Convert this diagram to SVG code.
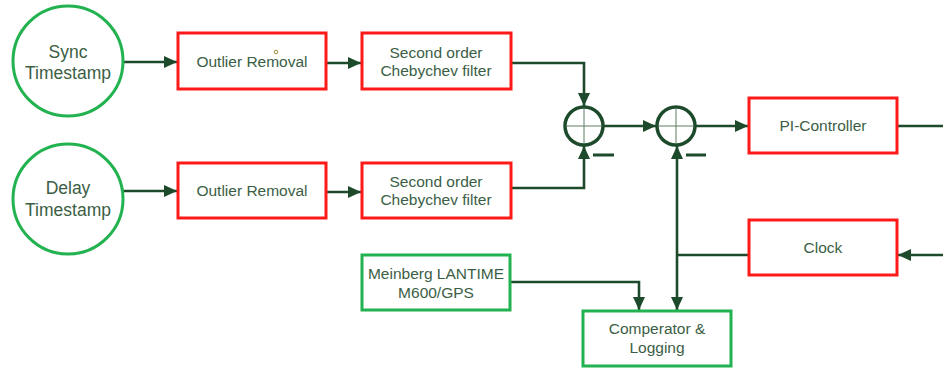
<svg xmlns="http://www.w3.org/2000/svg" width="943" height="369" viewBox="0 0 943 369">
<defs>
<style>
.txt{font-family:"Liberation Sans",Arial,sans-serif;fill:#3b5e45;text-anchor:middle;dominant-baseline:central}
.big{font-size:17.5px}
.sm{font-size:15.5px}
.red{fill:#fff;stroke:#ff1a1a;stroke-width:3}
.grn{fill:#fff;stroke:#22b24f;stroke-width:3}
.con{fill:none;stroke:#1c4a2b;stroke-width:2.6}
.sum{fill:#fff;stroke:#1c4a2b;stroke-width:3.5}
.cross{stroke:#5d7d63;stroke-width:1}
</style>
<marker id="ah" markerUnits="userSpaceOnUse" markerWidth="14" markerHeight="12" refX="13" refY="6" orient="auto">
<path d="M0,0 L13,6 L0,12 z" fill="#1c4a2b"/>
</marker>
</defs>
<rect width="943" height="369" fill="#fff"/>

<g id="connectors">
<path class="con" d="M123,62 H177" marker-end="url(#ah)"/>
<path class="con" d="M123,191 H177" marker-end="url(#ah)"/>
<path class="con" d="M326,63 H361" marker-end="url(#ah)"/>
<path class="con" d="M326,192 H361" marker-end="url(#ah)"/>
<path class="con" d="M511,63 H584 V106" marker-end="url(#ah)"/>
<path class="con" d="M511,188 H584 V146" marker-end="url(#ah)"/>
<path class="con" d="M603,126 H656" marker-end="url(#ah)"/>
<path class="con" d="M695,126 H748" marker-end="url(#ah)"/>
<path class="con" d="M897,126 H943"/>
<path class="con" d="M943,255 H898" marker-end="url(#ah)"/>
<path class="con" d="M749,255 H677"/>
<path class="con" d="M677,255 V146" marker-end="url(#ah)"/>
<path class="con" d="M677,255 V310" marker-end="url(#ah)"/>
<path class="con" d="M510,282 H639 V310" marker-end="url(#ah)"/>
<path d="M593,155 H614 M686,155 H706" stroke="#1c4a2b" stroke-width="3"/>
</g>

<g id="sync">
<circle cx="68" cy="61" r="55" class="grn"/>
<text class="txt big" x="68" y="52">Sync</text>
<text class="txt big" x="68" y="73">Timestamp</text>
</g>
<g id="delay">
<circle cx="68" cy="199" r="55" class="grn"/>
<text class="txt big" x="68" y="188">Delay</text>
<text class="txt big" x="68" y="210">Timestamp</text>
</g>
<g id="outlier1">
<rect x="178" y="33" width="148" height="56" class="red"/>
<text class="txt sm" x="252" y="61">Outlier Removal</text>
<circle cx="276" cy="52" r="1.8" fill="#fff" stroke="#a08a40" stroke-width="1"/>
</g>
<g id="outlier2">
<rect x="178" y="163" width="148" height="55" class="red"/>
<text class="txt sm" x="252" y="190">Outlier Removal</text>
</g>
<g id="cheby1">
<rect x="362" y="33" width="149" height="56" class="red"/>
<text class="txt sm" x="436" y="52">Second order</text>
<text class="txt sm" x="436" y="70">Chebychev filter</text>
</g>
<g id="cheby2">
<rect x="362" y="163" width="149" height="55" class="red"/>
<text class="txt sm" x="436" y="181">Second order</text>
<text class="txt sm" x="436" y="199">Chebychev filter</text>
</g>
<g id="sum1">
<circle cx="584" cy="126" r="19" class="sum"/>
<path class="cross" d="M566,126 H602 M584,108 V144"/>
</g>
<g id="sum2">
<circle cx="676" cy="126" r="19" class="sum"/>
<path class="cross" d="M658,126 H694 M676,108 V144"/>
</g>
<g id="pi">
<rect x="749" y="98" width="148" height="55" class="red"/>
<text class="txt sm" x="823" y="125">PI-Controller</text>
</g>
<g id="clock">
<rect x="749" y="220" width="148" height="55" class="red"/>
<text class="txt sm" x="823" y="247">Clock</text>
</g>
<g id="meinberg">
<rect x="362" y="255" width="148" height="55" class="grn"/>
<text class="txt sm" x="436" y="273">Meinberg LANTIME</text>
<text class="txt sm" x="436" y="292">M600/GPS</text>
</g>
<g id="comparator">
<rect x="583" y="311" width="148" height="55" class="grn"/>
<text class="txt sm" x="657" y="328">Comperator &amp;</text>
<text class="txt sm" x="657" y="347">Logging</text>
</g>
</svg>
